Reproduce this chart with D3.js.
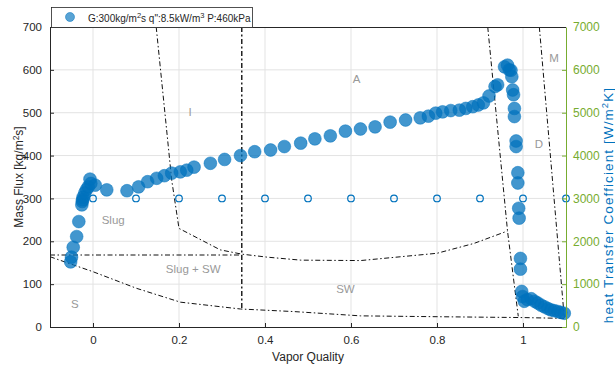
<!DOCTYPE html>
<html><head><meta charset="utf-8">
<script src="https://cdn.jsdelivr.net/npm/d3@7"></script>
<style>body{margin:0;background:#fff}svg{font-family:"Liberation Sans",Arial,Helvetica,sans-serif}</style>
</head><body><svg id="c" width="615" height="366"></svg>
<script>
// ---- data ----
const htcQuality = [-0.052,-0.050,-0.046,-0.038,-0.033,-0.026,-0.025,-0.024,-0.023,-0.019,-0.015,-0.011,-0.007,-0.005,0.005,
 0.032,0.079,0.106,0.127,0.148,0.166,0.183,0.203,0.218,0.235,0.273,0.306,0.343,0.376,0.413,0.445,0.483,0.516,0.552,0.587,
 0.622,0.656,0.691,0.727,0.761,0.780,0.797,0.813,0.832,0.852,0.867,0.883,0.896,0.908,0.921,0.935,0.941,0.957,0.964,0.968,
 0.972,0.974,0.976,0.978,0.980,0.980,0.984,0.984,0.988,0.988,0.990,0.991,0.994,0.994,0.997,0.999,1.003,1.010,1.019,1.027,
 1.034,1.042,1.050,1.058,1.065,1.073,1.081,1.088,1.096];
const htcValues = [1520,1630,1860,2110,2460,2850,2930,2970,3030,3130,3210,3270,3450,3350,3310,
 3200,3180,3270,3390,3470,3530,3590,3620,3660,3730,3820,3910,4000,4090,4130,4210,4290,4390,4460,4570,
 4620,4670,4780,4830,4880,4920,4990,5020,5050,5060,5100,5140,5180,5230,5390,5610,5650,6070,6110,6000,
 5990,5840,5530,5420,5100,4910,4340,4210,3600,3360,2770,2540,1600,1350,830,710,600,640,660,600,
 560,510,470,430,400,380,360,340,320];
const opQuality = [0,0.1,0.2,0.3,0.4,0.5,0.6,0.7,0.8,0.9,1.0,1.1];
const opMassFlux = [300,300,300,300,300,300,300,300,300,300,300,300];
// flow-pattern map boundaries [quality, mass flux]
const bSlugSW = [[-0.1,168],[0.346,168]];
const bStrat = [[-0.1,164],[-0.046,145],[0,129],[0.102,90],[0.203,58],[0.343,42],[0.467,36],[0.622,26],[0.80,24],[1.0,22],[1.1,20]];
const bIntermittent = [[0.147,700],[0.183,343],[0.200,230],[0.296,180],[0.346,170],[0.405,163],[0.483,156],[0.622,155],[0.80,172],[0.886,195],[0.964,224]];
const bIA = [[0.346,700],[0.346,44]];
const bAD = [[0.918,700],[0.964,224],[0.989,25]];
const bDM = [[1.038,700],[1.096,22]];
const regionLabels = ["A","I","D","M","Slug","Slug + SW","SW","S"];
const regionQ = [0.613,0.226,1.037,1.072,0.047,0.233,0.587,-0.042];
const regionG = [576,499,424,625,247,133,86,51];
const xTicks = [0,0.2,0.4,0.6,0.8,1];
const xTickLabels = ["0","0.2","0.4","0.6","0.8","1"];
const yLTicks = [0,100,200,300,400,500,600,700];
const yRTicks = [0,1000,2000,3000,4000,5000,6000,7000];

// ---- chart ----
const svg = d3.select("#c");
const L=50,R=566,T=27,B=327;
const x = d3.scaleLinear().domain([-0.1,1.1]).range([L,R]);
const yL = d3.scaleLinear().domain([0,700]).range([B,T]);
const yR = d3.scaleLinear().domain([0,7000]).range([B,T]);
const blue="#0072BD", green="#77AC30", ax="#262626";

// grid
const g = svg.append("g");
g.selectAll(".gx").data(xTicks).join("line").attr("x1",d=>x(d)).attr("x2",d=>x(d)).attr("y1",T).attr("y2",B).attr("stroke","#e3e3e3").attr("stroke-width",1);
g.selectAll(".gy").data(yLTicks.slice(1,-1)).join("line").attr("x1",L).attr("x2",R).attr("y1",d=>yL(d)).attr("y2",d=>yL(d)).attr("stroke","#e3e3e3").attr("stroke-width",1);

// boundaries
const line = d3.line().x(d=>x(d[0])).y(d=>yL(d[1]));
const bl = svg.append("g").attr("fill","none").attr("stroke","#111").attr("stroke-width",1).attr("stroke-dasharray","5,2.5,1.5,2.5");
[bSlugSW,bStrat,bIntermittent,bAD,bDM].forEach(b=>bl.append("path").attr("d",line(b)));
bl.append("path").attr("d",line(bIA)).attr("stroke-width",1.4).attr("stroke-dasharray","5,2.5,2,2.5");

// region labels
svg.append("g").selectAll("text").data(regionLabels).join("text")
 .attr("x",(d,i)=>x(regionQ[i])).attr("y",(d,i)=>yL(regionG[i])).attr("text-anchor","middle").attr("dominant-baseline","middle")
 .attr("font-size",11.5).attr("fill","#999").text(d=>d);

// open circles
svg.append("g").selectAll("circle").data(opQuality).join("circle")
 .attr("cx",d=>x(d)).attr("cy",(d,i)=>yL(opMassFlux[i])).attr("r",3.3)
 .attr("fill","none").attr("stroke",blue).attr("stroke-width",1.2);

// HTC points
svg.append("g").selectAll("circle").data(htcQuality).join("circle")
 .attr("cx",d=>x(d)).attr("cy",(d,i)=>yR(htcValues[i])).attr("r",6.4)
 .attr("fill",blue).attr("fill-opacity",0.74).attr("stroke",blue).attr("stroke-opacity",0.6).attr("stroke-width",0.8);

// axes
const xAxis = d3.axisBottom(x).tickValues(xTicks).tickFormat((d,i)=>xTickLabels[i]).tickSizeInner(-4).tickSizeOuter(0).tickPadding(9);
const gx = svg.append("g").attr("transform",`translate(0,${B})`).call(xAxis);
gx.select(".domain").attr("stroke",ax);
gx.selectAll("line").attr("stroke",ax);
gx.selectAll("text").attr("font-size",11.5).attr("fill",ax).attr("font-family","Liberation Sans,Arial");

const yAxisL = d3.axisLeft(yL).tickValues(yLTicks).tickSizeInner(-4).tickSizeOuter(0).tickPadding(8);
const gyl = svg.append("g").attr("transform",`translate(${L},0)`).call(yAxisL);
gyl.select(".domain").attr("stroke",ax);
gyl.selectAll("line").attr("stroke",ax);
gyl.selectAll("text").attr("font-size",11.5).attr("fill",ax).attr("font-family","Liberation Sans,Arial");

const yAxisR = d3.axisRight(yR).tickValues(yRTicks).tickFormat(d3.format("d")).tickSizeInner(-4).tickSizeOuter(0).tickPadding(7);
const gyr = svg.append("g").attr("transform",`translate(${R},0)`).call(yAxisR);
gyr.select(".domain").attr("stroke",green);
gyr.selectAll("line").attr("stroke",green);
gyr.selectAll("text").attr("font-size",12).attr("fill",green).attr("font-family","Liberation Sans,Arial");

// top frame
svg.append("line").attr("x1",L).attr("x2",R).attr("y1",T+0.5).attr("y2",T+0.5).attr("stroke",ax).attr("stroke-width",1);

// axis labels
svg.append("text").attr("x",(L+R)/2).attr("y",361).attr("text-anchor","middle").attr("font-size",12).attr("fill",ax).text("Vapor Quality");
const tl = svg.append("text").attr("transform",`translate(23,${(T+B)/2}) rotate(-90)`).attr("text-anchor","middle").attr("font-size",12).attr("fill",ax);
tl.append("tspan").text("Mass Flux [kg/m");
tl.append("tspan").attr("font-size",8.5).attr("dy",-4.5).text("2");
tl.append("tspan").attr("dy",4.5).text("s]");
const tr = svg.append("text").attr("transform",`translate(613,205) rotate(-90)`).attr("text-anchor","middle").attr("font-size",13.5).attr("letter-spacing",1.1).attr("fill",blue);
tr.append("tspan").text("heat Transfer Coefficient [W/m");
tr.append("tspan").attr("font-size",9.5).attr("dy",-5).text("2");
tr.append("tspan").attr("dy",5).text("K]");

// legend
const lg = svg.append("g");
lg.append("rect").attr("x",51.5).attr("y",7.5).attr("width",201).attr("height",20).attr("fill","#fff").attr("stroke",ax).attr("stroke-width",0.8);
lg.append("circle").attr("cx",70).attr("cy",17).attr("r",4.5).attr("fill",blue).attr("fill-opacity",0.65).attr("stroke",blue).attr("stroke-opacity",0.5);
const lt = lg.append("text").attr("x",88).attr("y",21.5).attr("font-size",10).attr("fill",ax);
lt.append("tspan").text("G:300kg/m");
lt.append("tspan").attr("font-size",7.5).attr("dy",-4).text("2");
lt.append("tspan").attr("dy",4).text("s q\":8.5kW/m");
lt.append("tspan").attr("font-size",7.5).attr("dy",-4).text("3");
lt.append("tspan").attr("dy",4).text(" P:460kPa");
</script></body></html>
